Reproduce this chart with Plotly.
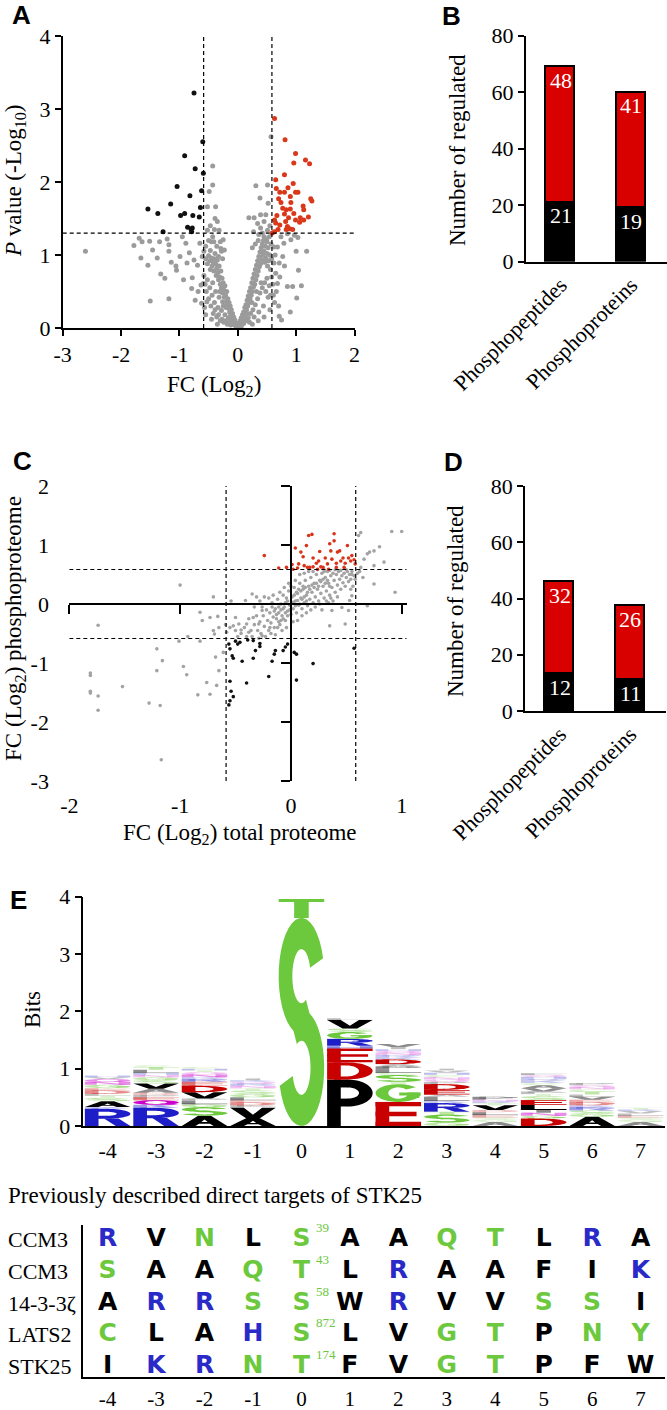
import numpy as np
import plotly.graph_objects as go

W, H = 667, 1410

# ---------------- Panel A : volcano plot ----------------
A_UP = [(0.63,2.87),(0.81,2.58),(0.99,2.39),(1.16,2.30),(0.96,2.26),(1.23,2.25),(0.80,2.10),(0.65,2.03),
        (0.95,1.98),(0.86,1.92),(0.66,1.91),(0.72,1.86),(0.80,1.86),(0.99,1.86),(1.03,1.86),(0.90,1.80),
        (0.70,1.77),(1.25,1.77),(1.27,1.74),(0.74,1.72),(0.91,1.72),(1.12,1.67),(0.77,1.64),(0.83,1.62),
        (0.90,1.63),(1.13,1.62),(0.96,1.57),(0.80,1.56),(0.67,1.54),(1.21,1.52),(0.87,1.51),(1.07,1.51),
        (0.99,1.48),(1.13,1.48),(0.63,1.48),(0.82,1.46),(1.06,1.45),(0.65,1.44),(0.72,1.41),(0.85,1.39),
        (0.89,1.36),(0.83,1.35),(0.69,1.35),(0.63,1.32),(0.59,1.30),(0.94,1.35)]
A_DOWN = [(-0.75,3.22),(-0.60,2.55),(-0.91,2.36),(-0.73,2.18),(-0.59,2.12),(-1.04,1.94),(-0.62,1.88),
          (-0.82,1.81),(-1.15,1.70),(-1.54,1.63),(-1.37,1.57),(-0.91,1.57),(-0.98,1.54),(-0.77,1.54),
          (-0.64,1.65),(-0.66,1.52),(-0.86,1.38),(-0.78,1.37),(-1.28,1.32),(-0.79,1.32),(-0.80,1.35)]
A_GREY = [(-2.61,1.05),(-1.69,1.23),(-1.64,1.18),(-1.78,1.13),(-1.51,1.19),(-1.34,1.18),(-1.21,1.22),
          (-1.18,1.14),(-1.46,1.07),(-1.66,0.96),(-1.54,0.86),(-1.38,0.96),(-1.32,0.74),(-1.18,1.05),
          (-1.14,0.90),(-1.06,0.85),(-1.05,0.79),(-1.25,0.68),(-1.50,0.37),(-1.18,0.40),(-0.99,0.98),
          (-0.93,0.66),(-0.95,1.25),(-0.89,1.16),(-0.83,1.03),(-0.87,0.89),(-0.78,0.69),(-0.79,0.54),
          (-0.75,0.93),(-0.69,0.86),(-0.68,0.50),(-0.65,1.16),(-0.73,0.38),(-0.63,0.59),(-0.62,0.34),
          (-0.61,0.98),(-0.59,0.61),
          (-0.55,0.95),(-0.52,0.88),(-0.50,0.99),(-0.48,0.92),(-0.47,0.80),(-0.45,0.96),(-0.44,0.85),
          (-0.42,0.90),(-0.41,0.78),(-0.40,0.95),(-0.38,0.88),(-0.37,0.72),(-0.36,0.82),(-0.35,0.93),
          (-0.34,0.76),(-0.33,0.66),(-0.32,0.85),(-0.31,0.70),(-0.30,0.60),(-0.29,0.78),(-0.28,0.55),
          (-0.27,0.68),(-0.26,0.48),(-0.25,0.62),(-0.24,0.52),(-0.23,0.42),(-0.22,0.58),(-0.21,0.45),
          (-0.20,0.36),(-0.19,0.50),(-0.18,0.32),(-0.17,0.40),(-0.16,0.27),(-0.15,0.35),(-0.14,0.22),
          (-0.13,0.30),(-0.12,0.18),(-0.11,0.25),(-0.10,0.13),(-0.09,0.20),(-0.08,0.09),(-0.07,0.15),
          (-0.06,0.05),(-0.05,0.11),(-0.04,0.03),(-0.03,0.07),(-0.02,0.02),(-0.01,0.05),
          (-0.58,0.72),(-0.56,0.60),(-0.54,0.50),(-0.52,0.66),(-0.50,0.40),(-0.48,0.55),(-0.46,0.30),
          (-0.44,0.45),(-0.42,0.20),(-0.40,0.35),(-0.38,0.50),(-0.36,0.15),(-0.34,0.28),(-0.32,0.42),
          (-0.30,0.10),(-0.28,0.24),(-0.26,0.36),(-0.24,0.08),(-0.22,0.18),(-0.20,0.28),(-0.18,0.05),
          (-0.16,0.14),(-0.14,0.08),(-0.12,0.04),(-0.10,0.07),(-0.57,0.28),(-0.55,0.18),(-0.53,0.36),
          (-0.45,0.12),(-0.43,0.62),(-0.39,0.25),(-0.35,0.05),(-0.33,0.18),(-0.31,0.50),(-0.27,0.12),
          (-0.25,0.30),(-0.21,0.10),
          (-0.58,1.05),(-0.55,1.12),(-0.50,1.20),(-0.47,1.06),(-0.43,1.25),(-0.39,1.02),(-0.36,1.12),
          (-0.33,0.98),(-0.28,1.05),(-0.26,0.95),(-0.52,1.34),(-0.49,1.87),(-0.43,2.22),(-0.43,1.96),
          (-0.52,1.66),(-0.38,1.66),(-0.39,1.50),(-0.35,1.46),(-0.45,1.18),(-0.41,1.18),(-0.30,1.18),
          (-0.25,1.21),(-0.29,1.09),(-0.23,1.07),(-0.32,1.34),(-0.47,1.40),(-0.40,1.35),
          (0.01,0.03),(0.02,0.06),(0.03,0.02),(0.04,0.10),(0.05,0.05),(0.06,0.14),(0.07,0.08),(0.08,0.18),
          (0.09,0.12),(0.10,0.22),(0.11,0.15),(0.12,0.28),(0.13,0.20),(0.14,0.32),(0.15,0.25),(0.16,0.38),
          (0.17,0.30),(0.18,0.44),(0.19,0.35),(0.20,0.50),(0.21,0.40),(0.22,0.55),(0.23,0.45),(0.24,0.62),
          (0.25,0.50),(0.26,0.68),(0.27,0.56),(0.28,0.74),(0.29,0.60),(0.30,0.80),(0.31,0.66),(0.32,0.86),
          (0.33,0.72),(0.34,0.92),(0.35,0.78),(0.36,0.98),(0.37,0.84),(0.38,1.04),(0.39,0.88),(0.40,1.10),
          (0.41,0.94),(0.42,1.15),(0.43,1.00),(0.44,1.20),(0.45,1.05),(0.46,0.90),(0.47,1.12),(0.48,0.96),
          (0.49,1.22),(0.50,1.02),(0.51,0.85),(0.52,1.10),(0.53,0.92),(0.54,1.25),(0.55,1.00),(0.56,0.80),
          (0.57,1.15),(0.58,0.95),
          (0.06,0.02),(0.10,0.06),(0.14,0.10),(0.18,0.14),(0.22,0.20),(0.26,0.25),(0.30,0.32),(0.34,0.40),
          (0.38,0.48),(0.42,0.55),(0.46,0.62),(0.50,0.68),(0.54,0.58),(0.58,0.70),(0.20,0.08),(0.28,0.15),
          (0.36,0.22),(0.44,0.30),(0.52,0.42),(0.40,0.62),(0.32,0.50),(0.24,0.35),(0.16,0.20),(0.48,0.50),
          (0.56,0.45),(0.35,0.10),(0.45,0.15),(0.55,0.25),(0.25,0.05),
          (0.25,1.10),(0.30,1.15),(0.35,1.20),(0.31,1.95),(0.51,1.96),(0.57,2.62),(0.38,1.78),(0.48,1.55),
          (0.19,1.51),(0.28,1.51),(0.39,1.55),(0.52,1.71),(0.45,1.46),(0.34,1.43),(0.39,1.37),(0.51,1.34),
          (0.27,1.32),(0.42,1.30),(0.55,1.40),(0.45,1.25),(0.36,1.28),(0.50,1.18),
          (0.74,1.25),(0.85,1.29),(0.97,1.27),(1.03,1.24),(0.91,1.21),(0.68,1.11),(0.79,1.16),(1.00,1.05),
          (1.18,1.05),(1.04,0.79),(0.85,0.57),(0.94,0.57),(1.09,0.58),(1.01,0.41),(0.90,0.22),(0.71,0.16),
          (0.75,0.11),(0.62,0.89),(0.65,0.75),(0.71,0.89),(0.68,0.61),(0.77,0.98),(0.62,1.11),(0.66,0.50),
          (0.63,0.35),(0.70,0.30),(0.64,1.00),(0.80,0.85),(0.72,0.70),(0.60,0.60),(0.61,0.45)]
A_FC_CUT = 0.585
A_P_CUT = 1.3

# ---------------- Panel B : counts (volcano) ----------------
BAR_CATS = ["Phosphopeptides", "Phosphoproteins"]
B_DOWN = [21, 19]
B_UP = [48, 41]

# ---------------- Panel C : phospho vs total proteome ----------------
C_UP = [(-0.24,0.82),(-0.11,0.61),(-0.04,0.62),(0.01,0.67),(0.04,0.95),(0.02,0.59),(0.06,0.61),(0.09,0.88),
        (0.11,0.80),(0.12,0.65),(0.14,0.99),(0.16,1.16),(0.19,1.18),(0.17,0.62),(0.20,0.78),(0.23,0.69),
        (0.24,0.59),(0.26,0.89),(0.27,0.63),(0.29,0.62),(0.31,0.78),(0.33,0.68),(0.35,1.02),(0.36,0.90),
        (0.37,0.76),(0.39,1.19),(0.39,1.07),(0.41,0.69),(0.42,0.88),(0.44,0.90),(0.45,0.73),(0.47,0.78),
        (0.48,0.62),(0.51,0.99),(0.52,0.78),(0.54,0.73),(0.55,0.82),(0.57,0.75),(0.58,0.68),(0.15,0.62),
        (0.34,0.59),(0.41,0.62),(0.49,0.69),(0.25,0.73),(0.20,0.63),(0.07,0.68)]
C_DOWN = [(-0.56,-0.68),(-0.55,-0.76),(-0.53,-0.88),(-0.52,-0.92),(-0.50,-0.63),(-0.48,-0.68),(-0.46,-0.65),
          (-0.44,-0.97),(-0.40,-1.34),(-0.39,-0.61),(-0.34,-0.92),(-0.34,-0.62),(-0.32,-0.79),(-0.28,-0.67),
          (-0.28,-0.72),(-0.20,-1.23),(-0.17,-0.97),(-0.15,-0.85),(-0.14,-0.79),(-0.07,-0.79),(-0.05,-0.73),
          (-0.03,-0.68),(0.03,-0.82),(0.05,-0.85),(0.05,-1.29),(0.20,-1.01),(0.57,-0.75),(-0.55,-1.31),
          (-0.54,-1.48),(-0.52,-1.57),(-0.55,-1.64),(-0.56,-1.71)]
C_GREY = [(-1.74,-0.36),(-1.81,-1.17),(-1.81,-1.21),(-1.81,-1.48),(-1.81,-1.51),(-1.74,-1.56),(-1.74,-1.80),
          (-1.52,-1.40),(-1.28,-1.68),(-1.18,-1.72),(-1.17,-2.64),(-1.21,-0.76),(-1.16,-0.96),(-1.21,-1.13),
          (-1.00,0.32),(-1.01,-0.63),(-0.93,-0.55),(-0.97,-1.06),(-0.94,-1.20),(-0.84,-1.54),(-0.82,-0.14),
          (-0.82,-0.63),(-0.80,-0.28),(-0.76,-1.33),(-0.73,-1.53),(-0.73,-0.23),(-0.70,0.12),(-0.70,-0.45),
          (-0.69,-0.51),(-0.67,-1.38),(-0.65,-0.40),(-0.66,-0.21),(-0.65,-1.13),(-0.68,-0.90),(-0.61,-0.82),
          (-0.59,-0.35),(-0.58,-0.48),(-0.54,0.05),(-0.52,-0.37),(-0.50,-0.23),(-0.47,-0.34),(-0.45,-0.44),
          (-0.41,0.06),(-0.40,-0.34),(-0.38,-0.48),(-0.35,0.17),(-0.34,-0.23),(-0.31,0.12),(-0.29,-0.34),
          (-0.26,-0.11),(-0.26,-0.54),
          (0.63,1.21),(0.61,1.16),(0.91,1.23),(1.00,1.23),(0.80,0.97),(0.84,0.71),(0.75,0.34),(0.94,0.20),
          (0.69,-0.03),(0.65,0.45),(0.71,0.88),(0.69,0.85),(0.75,0.90),(0.66,0.76),(0.63,0.62),(0.75,0.65),
          (0.53,0.06),(0.54,0.25),(0.49,-0.34),(0.35,-0.37),(0.37,-0.11),(0.46,-0.06),(0.52,-0.11),(0.55,0.14),
          (-0.30,-0.45),(-0.28,-0.30),(-0.27,-0.50),(-0.25,-0.20),(-0.24,-0.38),(-0.22,-0.10),(-0.21,-0.28),
          (-0.20,-0.45),(-0.19,-0.15),(-0.18,-0.32),(-0.17,0.02),(-0.16,-0.22),(-0.15,-0.40),(-0.14,-0.08),
          (-0.13,-0.25),(-0.12,0.08),(-0.11,-0.15),(-0.10,-0.35),(-0.09,0.00),(-0.08,-0.20),(-0.07,0.15),
          (-0.06,-0.05),(-0.05,-0.28),(-0.04,0.10),(-0.03,-0.12),(-0.02,0.22),(-0.01,-0.02),(0.00,-0.18),
          (0.01,0.12),(0.02,-0.08),(0.03,0.28),(0.04,0.05),(0.05,-0.15),(0.06,0.18),(0.07,-0.02),(0.08,0.35),
          (0.09,0.10),(0.10,-0.08),(0.11,0.25),(0.12,0.02),(0.13,0.40),(0.14,0.15),(0.15,-0.03),(0.16,0.30),
          (0.17,0.08),(0.18,0.45),(0.19,0.20),(0.20,0.02),(0.21,0.35),(0.22,0.12),(0.23,0.50),(0.24,0.25),
          (0.25,0.05),(0.26,0.40),(0.27,0.18),(0.28,0.52),(0.29,0.30),(0.30,0.10),(0.31,0.45),(0.32,0.22),
          (0.33,0.55),(0.34,0.35),(0.35,0.15),(0.36,0.48),(0.37,0.28),(0.38,0.52),(0.39,0.40),(0.40,0.20),
          (0.41,0.50),(0.42,0.32),(0.43,0.55),(0.44,0.42),(0.45,0.25),(0.46,0.48),(0.47,0.36),(0.48,0.52),
          (0.49,0.30),(0.50,0.45),(0.51,0.55),(0.52,0.38),(0.53,0.50),(0.54,0.42),(0.55,0.55),(0.56,0.30),
          (0.57,0.48),
          (-0.35,-0.55),(-0.33,-0.35),(-0.31,-0.20),(-0.29,-0.58),(-0.26,-0.05),(-0.23,-0.55),(-0.20,0.10),
          (-0.18,-0.50),(-0.16,0.15),(-0.14,-0.52),(-0.12,-0.40),(-0.10,0.20),(-0.08,-0.45),(-0.06,0.28),
          (-0.04,-0.40),(-0.02,0.35),(0.00,0.30),(0.02,-0.30),(0.04,0.40),(0.06,-0.28),(0.08,0.50),
          (0.10,-0.20),(0.12,0.52),(0.14,-0.15),(0.16,0.55),(0.18,-0.10),(0.20,0.55),(0.22,-0.05),
          (0.24,0.58),(0.26,0.00),(0.28,-0.10),(0.30,0.55),(0.32,0.05),(0.34,0.02),(0.36,0.10),(0.38,0.05),
          (0.40,0.58),(0.42,0.12),
          (-0.05,0.02),(-0.03,0.05),(0.00,0.00),(0.02,0.03),(0.04,-0.03),(0.06,0.06),(0.08,0.00),(0.10,0.08),
          (0.12,0.12),(0.14,0.05),(-0.07,-0.08),(-0.09,-0.10),(-0.11,-0.05),(0.03,0.15),(0.05,0.20),
          (0.07,0.25),(0.09,0.22),(0.11,0.30),(0.13,0.28),(0.15,0.20),(0.17,0.25),(0.19,0.32),(0.21,0.28),
          (0.23,0.35),(0.25,0.30),(0.27,0.38),(0.29,0.42),(0.31,0.35),(0.33,0.40),(0.35,0.30),(-0.01,-0.10),
          (-0.03,-0.20),(-0.05,-0.15),(-0.07,-0.25),(-0.09,-0.28),(-0.11,-0.30),(-0.13,-0.18),(-0.15,-0.12),
          (-0.17,-0.05),(-0.19,-0.40),
          (-0.45,-0.50),(-0.42,-0.40),(-0.40,-0.55),(-0.38,-0.25),(-0.36,-0.45),(-0.48,-0.55),(-0.50,-0.45),
          (-0.55,-0.40),(-0.33,-0.05),(-0.28,0.05),(-0.24,0.12),
          (0.30,0.58),(0.35,0.57),(0.45,0.57),(0.50,0.58),(0.55,0.50),(0.58,0.42),(0.60,0.52),(0.62,0.55)]
C_CUT = 0.585

# ---------------- Panel D : counts (corrected) ----------------
D_DOWN = [13, 11]
D_UP = [33, 26.5]
D_DOWN_LABEL = ["12", "11"]
D_UP_LABEL = ["32", "26"]

# ---------------- Panel E : sequence logo (bits) ----------------
LOGO_POSITIONS = list(range(-4, 8))
LOGO_M4 = [("R",0.30),("K",0.03),("A",0.10),("S",0.06),("T",0.04),("L",0.03),("D",0.06),("E",0.04),
           ("G",0.06),("N",0.05),("Q",0.05),("V",0.03),("H",0.03)]
LOGO_M3 = [("R",0.32),("K",0.05),("Q",0.08),("E",0.05),("P",0.04),("D",0.04),("A",0.07),("V",0.09),
           ("S",0.06),("G",0.05),("N",0.04),("H",0.04),("L",0.05),("T",0.05),("C",0.03)]
LOGO_M2 = [("A",0.18),("S",0.15),("G",0.05),("L",0.06),("P",0.04),("V",0.11),("D",0.11),("E",0.07),
           ("R",0.05),("K",0.03),("N",0.05),("Q",0.04),("T",0.03),("H",0.03),("C",0.03)]
LOGO_M1 = [("A",0.14),("V",0.18),("P",0.04),("D",0.05),("E",0.04),("L",0.05),("G",0.06),("S",0.06),
           ("T",0.04),("N",0.04),("R",0.04),("Q",0.03),("K",0.03),("I",0.03)]
LOGO_0 = [("S",3.63),("T",0.33)]
LOGO_1 = [("P",0.81),("D",0.30),("E",0.24),("H",0.05),("R",0.12),("G",0.12),("S",0.06),("V",0.15),("L",0.03)]
LOGO_2 = [("E",0.42),("G",0.31),("T",0.04),("S",0.12),("C",0.04),("L",0.06),("P",0.05),("A",0.04),
          ("D",0.08),("K",0.04),("R",0.04),("N",0.04),("Q",0.03),("H",0.03),("I",0.04),("V",0.05)]
LOGO_3 = [("G",0.06),("S",0.14),("T",0.05),("R",0.15),("K",0.04),("L",0.07),("A",0.04),("E",0.08),
          ("D",0.10),("P",0.04),("Q",0.04),("N",0.04),("C",0.04),("H",0.04),("V",0.04),("I",0.03)]
LOGO_4 = [("A",0.07),("G",0.04),("S",0.04),("E",0.04),("L",0.05),("D",0.04),("V",0.08),("T",0.04),
          ("K",0.03),("N",0.03),("P",0.05)]
LOGO_5 = [("D",0.13),("G",0.05),("N",0.05),("I",0.05),("L",0.09),("E",0.08),("S",0.07),("T",0.04),
          ("P",0.04),("V",0.06),("A",0.05),("C",0.04),("K",0.04),("R",0.03),("H",0.04),("Q",0.03),("F",0.03)]
LOGO_6 = [("A",0.16),("G",0.05),("S",0.06),("R",0.06),("K",0.03),("D",0.06),("E",0.04),("V",0.05),
          ("L",0.04),("T",0.05),("C",0.04),("N",0.04),("Q",0.03),("P",0.04)]
LOGO_7 = [("A",0.07),("G",0.04),("S",0.04),("E",0.03),("L",0.04),("V",0.04),("K",0.03),("T",0.03)]
LOGO_STACKS = [LOGO_M4, LOGO_M3, LOGO_M2, LOGO_M1, LOGO_0, LOGO_1, LOGO_2, LOGO_3,
               LOGO_4, LOGO_5, LOGO_6, LOGO_7]

# ---------------- Panel E : known STK25 targets ----------------
TABLE_NAMES = ["CCM3", "CCM3", "14-3-3ζ", "LATS2", "STK25"]
TABLE_SEQS = ["RVNLSAAQTLRA", "SAAQTLRAAFIK", "ARRSSWRVVSSI", "CLAHSLVGTPNY", "IKRNTFVGTPFW"]
TABLE_SITES = ["39", "43", "58", "872", "174"]

# ======================= styling / helpers =======================
SERIF = "Liberation Serif"
SANS = "Liberation Sans"
TICK_FONT = dict(family=SERIF, size=22, color="black")
TITLE_SIZE = 23
GREY = "#9b9b9b"
RED_DOT = "#d9381a"
BAR_RED = "#d90000"
DASH = "4px,3px"


def px(x):
    return x / W


def py(y):
    return 1 - y / H


def unzip(pairs):
    return [p[0] for p in pairs], [p[1] for p in pairs]


def labels(vals):
    return [str(v) for v in vals]


fig = go.Figure()
shapes = []
annotations = []


def dashed(xref, yref, x0, x1, y0, y1):
    shapes.append(dict(type="line", xref=xref, yref=yref, x0=x0, x1=x1, y0=y0, y1=y1,
                       line=dict(color="black", width=1.2, dash=DASH), layer="above"))


def ann(text, x, y, size=TITLE_SIZE, angle=0, family=SERIF, xanchor="center", color="black", **kw):
    d = dict(text=text, x=px(x), y=py(y), xref="paper", yref="paper", showarrow=False,
             textangle=angle, xanchor=xanchor, yanchor="middle",
             font=dict(family=family, size=size, color=color))
    d.update(kw)
    annotations.append(d)


def axis_style(**kw):
    d = dict(showline=True, linecolor="black", linewidth=1.6, ticks="outside", ticklen=6,
             tickwidth=1.6, tickcolor="black", showgrid=False, zeroline=False, automargin=False,
             tickfont=TICK_FONT, fixedrange=True)
    if "tickvals" in kw and "ticktext" not in kw:
        kw["ticktext"] = labels(kw["tickvals"])
    d.update(kw)
    return d


# ---------------- Panel A traces ----------------
for pts, col in ((A_GREY, GREY), (A_DOWN, "#111111"), (A_UP, RED_DOT)):
    xs, ys = unzip(pts)
    fig.add_trace(go.Scatter(x=xs, y=ys, mode="markers", xaxis="x", yaxis="y",
                             marker=dict(size=5, color=col, line=dict(width=0)),
                             hoverinfo="skip", showlegend=False))
A_XR, A_YR = [-3, 2], [0, 4]
dashed("x", "y", -A_FC_CUT, -A_FC_CUT, A_YR[0], A_YR[1])
dashed("x", "y", A_FC_CUT, A_FC_CUT, A_YR[0], A_YR[1])
dashed("x", "y", A_XR[0], A_XR[1], A_P_CUT, A_P_CUT)


# ---------------- Panels B and D (stacked bars) ----------------
def bars(xa, ya, down, up, down_lab, up_lab):
    fig.add_trace(go.Bar(x=BAR_CATS, y=down, xaxis=xa, yaxis=ya, width=0.41,
                         marker=dict(color="black", line=dict(color="black", width=1.6)),
                         hoverinfo="skip", showlegend=False))
    fig.add_trace(go.Bar(x=BAR_CATS, y=up, xaxis=xa, yaxis=ya, width=0.41,
                         marker=dict(color=BAR_RED, line=dict(color="black", width=1.6)),
                         hoverinfo="skip", showlegend=False))
    for c, d, u, dl, ul in zip(BAR_CATS, down, up, down_lab, up_lab):
        for val, lab in ((d, dl), (d + u, ul)):
            annotations.append(dict(text=lab, x=c, y=val, xref=xa, yref=ya, showarrow=False,
                                    xanchor="center", yanchor="top", yshift=1,
                                    font=dict(family=SERIF, size=22, color="white")))


bars("x2", "y2", B_DOWN, B_UP, labels(B_DOWN), labels(B_UP))
bars("x4", "y4", D_DOWN, D_UP, D_DOWN_LABEL, D_UP_LABEL)

# ---------------- Panel C traces ----------------
for pts, col in ((C_GREY, "#a3a3a3"), (C_DOWN, "#111111"), (C_UP, "#d8341a")):
    xs, ys = unzip(pts)
    fig.add_trace(go.Scatter(x=xs, y=ys, mode="markers", xaxis="x3", yaxis="y3",
                             marker=dict(size=3.6, color=col, line=dict(width=0)),
                             hoverinfo="skip", showlegend=False))
C_XR, C_YR = [-2, 1.045], [-3, 2]
dashed("x3", "y3", -C_CUT, -C_CUT, C_YR[0], C_YR[1])
dashed("x3", "y3", C_CUT, C_CUT, C_YR[0], C_YR[1])
dashed("x3", "y3", C_XR[0], C_XR[1], C_CUT, C_CUT)
dashed("x3", "y3", C_XR[0], C_XR[1], -C_CUT, -C_CUT)
# empty traces so the label-only overlay axes are drawn
fig.add_trace(go.Scatter(x=[], y=[], xaxis="x7", yaxis="y3", showlegend=False, hoverinfo="skip"))
fig.add_trace(go.Scatter(x=[], y=[], xaxis="x3", yaxis="y7", showlegend=False, hoverinfo="skip"))

# ---------------- Panel E : logo glyphs ----------------


def _rect(u0, v0, u1, v1):
    return [(u0, v0), (u1, v0), (u1, v1), (u0, v1)]


def _band(cx, cy, rxo, ryo, rxi, ryi, a0, a1, n=30):
    t = np.radians(np.linspace(a0, a1, n))
    outer = list(zip(cx + rxo * np.cos(t), cy + ryo * np.sin(t)))
    ti = t[::-1]
    inner = list(zip(cx + rxi * np.cos(ti), cy + ryi * np.sin(ti)))
    return outer + inner


_P = [[_rect(0, 0, 0.3, 1)], [_band(0.45, 0.71, 0.55, 0.29, 0.25, 0.12, -90, 90)],
      [_rect(0.15, 0.83, 0.46, 1)], [_rect(0.15, 0.42, 0.46, 0.59)]]
GLYPHS = {
    "S": [[_band(0.5, 0.72, 0.5, 0.28, 0.2, 0.13, 18, 300)],
          [_band(0.5, 0.28, 0.5, 0.28, 0.2, 0.13, 120, -162)]],
    "T": [[_rect(0, 0.84, 1, 1)], [_rect(0.34, 0, 0.66, 0.86)]],
    "P": _P,
    "R": _P + [[[(0.42, 0.44), (0.74, 0.44), (1, 0), (0.68, 0)]]],
    "D": [[_rect(0, 0, 0.3, 1)], [_band(0.42, 0.5, 0.58, 0.5, 0.28, 0.32, -90, 90)],
          [_rect(0.15, 0, 0.43, 0.18)], [_rect(0.15, 0.82, 0.43, 1)]],
    "E": [[_rect(0, 0, 0.3, 1)], [_rect(0, 0.82, 1, 1)], [_rect(0, 0.41, 0.9, 0.59)], [_rect(0, 0, 1, 0.18)]],
    "F": [[_rect(0, 0, 0.3, 1)], [_rect(0, 0.82, 1, 1)], [_rect(0, 0.41, 0.9, 0.59)]],
    "G": [[_band(0.5, 0.5, 0.5, 0.5, 0.22, 0.32, 40, 350)], [_rect(0.52, 0.36, 0.99, 0.53)],
          [_rect(0.70, 0.22, 0.96, 0.53)]],
    "C": [[_band(0.5, 0.5, 0.5, 0.5, 0.22, 0.32, 40, 320)]],
    "Q": [[_band(0.5, 0.5, 0.5, 0.5, 0.24, 0.32, 0, 360)], [[(0.55, 0.25), (0.78, 0.3), (1, 0), (0.78, 0)]]],
    "A": [[[(0, 0), (0.36, 1), (0.64, 1), (1, 0), (0.7, 0), (0.62, 0.22), (0.38, 0.22), (0.3, 0)],
           [(0.43, 0.38), (0.57, 0.38), (0.5, 0.64)]]],
    "V": [[[(0, 1), (0.3, 1), (0.5, 0.32), (0.7, 1), (1, 1), (0.66, 0), (0.34, 0)]]],
    "K": [[_rect(0, 0, 0.3, 1)], [[(0.3, 0.36), (0.3, 0.70), (0.62, 1), (1, 1)]],
          [[(0.40, 0.50), (0.62, 0.66), (1, 0), (0.66, 0)]]],
    "L": [[_rect(0, 0, 0.3, 1)], [_rect(0, 0, 1, 0.18)]],
    "N": [[_rect(0, 0, 0.26, 1)], [_rect(0.74, 0, 1, 1)], [[(0, 1), (0.3, 1), (1, 0), (0.7, 0)]]],
    "H": [[_rect(0, 0, 0.28, 1)], [_rect(0.72, 0, 1, 1)], [_rect(0, 0.41, 1, 0.59)]],
    "I": [[_rect(0.34, 0, 0.66, 1)]],
}
LOGO_RGB = {"blue": (30, 30, 200), "green": (108, 200, 60), "purple": (204, 0, 204),
            "red": (200, 0, 0), "black": (0, 0, 0)}


def logo_colour(letter, h):
    if letter in "RKH":
        c = LOGO_RGB["blue"]
    elif letter in "STGCY":
        c = LOGO_RGB["green"]
    elif letter in "NQ":
        c = LOGO_RGB["purple"]
    elif letter in "DE":
        c = LOGO_RGB["red"]
    else:
        c = LOGO_RGB["black"]
    a = 1.0 if h >= 0.075 else (0.45 if h >= 0.05 else 0.25)
    return "rgba(%d,%d,%d,%.2f)" % (c[0], c[1], c[2], a)


HALF = 0.47
for pos, stack in zip(LOGO_POSITIONS, LOGO_STACKS):
    base = 0.0
    for letter, h in stack:
        x0, w = pos - HALF, 2 * HALF
        col = logo_colour(letter, h)
        for comp in GLYPHS.get(letter, [[_rect(0, 0, 1, 1)]]):
            path = ""
            for ring in comp:
                pts = ["%.4f,%.4f" % (x0 + u * w, base + v * h) for u, v in ring]
                path += "M" + "L".join(pts) + "Z"
            shapes.append(dict(type="path", xref="x5", yref="y5", path=path, fillcolor=col,
                               line=dict(width=0, color="rgba(0,0,0,0)"), fillrule="evenodd",
                               layer="above"))
        base += h

# ---------------- Panel E : table of known targets ----------------
TABLE_BLUE, TABLE_GREEN = "#2a2ac8", "#6cc83c"
tx, ty, tt, tc = [], [], [], []
n_rows = len(TABLE_SEQS)
for r, seq in enumerate(TABLE_SEQS):
    row_y = n_rows - 1 - r
    for pos, ch in zip(LOGO_POSITIONS, seq):
        tx.append(pos)
        ty.append(row_y)
        tt.append(ch)
        tc.append(TABLE_BLUE if ch in "RKH" else (TABLE_GREEN if ch in "STNQGCY" else "black"))
fig.add_trace(go.Scatter(x=tx, y=ty, text=tt, mode="text", xaxis="x6", yaxis="y6",
                         textfont=dict(family="DejaVu Sans", size=25, color=tc, weight="bold"),
                         hoverinfo="skip", showlegend=False))
for r, (name, site) in enumerate(zip(TABLE_NAMES, TABLE_SITES)):
    row_y = n_rows - 1 - r
    annotations.append(dict(text=name, x=px(6), y=row_y, xref="paper", yref="y6", showarrow=False,
                            xanchor="left", yanchor="middle",
                            font=dict(family=SERIF, size=22, color="black")))
    annotations.append(dict(text=site, x=0, y=row_y, xref="x6", yref="y6", showarrow=False,
                            xanchor="left", yanchor="middle", xshift=13, yshift=12,
                            font=dict(family=SERIF, size=13, color=TABLE_GREEN)))

# ---------------- text labels ----------------
for lab, x, y in (("A", 21, 15), ("B", 452, 16), ("C", 22, 461), ("D", 453, 462), ("E", 18, 900)):
    ann("<b>%s</b>" % lab, x, y, size=26, family=SANS)
ann("FC (Log<sub>2</sub>)", 214, 386)
ann("<i>P</i> value (-Log<sub>10</sub>)", 15, 181, angle=-90)
ann("Number of regulated", 457, 150, angle=-90)
ann("FC (Log<sub>2</sub>) total proteome", 240, 834)
ann("FC (Log<sub>2</sub>) phosphoproteome", 15, 629, angle=-90)
ann("Number of regulated", 455, 601, angle=-90)
ann("Bits", 32, 1010, angle=-90)
ann("Previously described direct targets of STK25", 6, 1195, xanchor="left")

# ---------------- layout / axes ----------------
C_X0_PAPER = px(69.3 + (0 - C_XR[0]) / (C_XR[1] - C_XR[0]) * (406.7 - 69.3))
C_Y0_PAPER = py(781 - (0 - C_YR[0]) / (C_YR[1] - C_YR[0]) * (781 - 486))
NOTICK = "rgba(0,0,0,0)"

fig.update_layout(
    template="none",
    width=W, height=H, margin=dict(l=0, r=0, t=0, b=0, pad=0, autoexpand=False),
    paper_bgcolor="white", plot_bgcolor="white", showlegend=False,
    barmode="stack", bargap=0,
    font=dict(family=SERIF, color="black"),
    # A
    xaxis=axis_style(domain=[px(62.7), px(354.5)], range=A_XR, tickvals=list(range(-3, 3)), anchor="y"),
    yaxis=axis_style(domain=[py(328), py(36)], range=A_YR, tickvals=list(range(0, 5)), anchor="x"),
    # B
    xaxis2=axis_style(domain=[px(525.7), 1.0], range=[-0.494, 1.51], type="category", ticks="",
                      tickangle=-45, anchor="y2"),
    yaxis2=axis_style(domain=[py(261.7), py(35.7)], range=[0, 80], tickvals=[0, 20, 40, 60, 80],
                      anchor="x2"),
    # C (axes through the origin)
    xaxis3=axis_style(domain=[px(69.3), px(406.7)], range=C_XR, tickvals=[-2, -1, 1], ticklen=9,
                      showticklabels=False, anchor="free", position=C_Y0_PAPER),
    yaxis3=axis_style(domain=[py(781), py(486)], range=C_YR, tickvals=[-3, -2, -1, 1, 2], ticklen=9,
                      showticklabels=False, anchor="free", position=C_X0_PAPER),
    xaxis7=axis_style(overlaying="x3", anchor="y3", side="bottom", range=C_XR, tickvals=[-2, -1, 0, 1],
                      showline=False, ticklen=5, tickcolor=NOTICK),
    yaxis7=axis_style(overlaying="y3", anchor="x3", side="left", range=C_YR,
                      tickvals=[-3, -2, -1, 0, 1, 2], showline=False, ticklen=15, tickcolor=NOTICK),
    # D
    xaxis4=axis_style(domain=[px(525), px(666)], range=[-0.494, 1.51], type="category", ticks="",
                      tickangle=-45, anchor="y4"),
    yaxis4=axis_style(domain=[py(711), py(486)], range=[0, 80], tickvals=[0, 20, 40, 60, 80],
                      anchor="x4"),
    # E logo
    xaxis5=axis_style(domain=[px(83.4), px(664.8)], range=[-4.5, 7.5], tickvals=LOGO_POSITIONS,
                      ticklen=4, tickcolor=NOTICK, anchor="y5"),
    yaxis5=axis_style(domain=[py(1126), py(896.7)], range=[0, 4], tickvals=[0, 1, 2, 3, 4],
                      ticklen=7, anchor="x5"),
    # E table
    xaxis6=axis_style(domain=[px(83.4), px(664.8)], range=[-4.5, 7.5], tickvals=LOGO_POSITIONS,
                      ticklen=2, tickcolor=NOTICK, anchor="y6",
                      tickfont=dict(family=SERIF, size=21, color="black")),
    yaxis6=axis_style(domain=[py(1377.3), py(1225)], range=[-0.335, 4.47], ticks="",
                      showticklabels=False, anchor="x6"),
    shapes=shapes,
    annotations=annotations,
)

fig.write_html("out.html", config={"displayModeBar": False},
               post_script="document.body.style.margin='0px';document.body.style.overflow='hidden';")
